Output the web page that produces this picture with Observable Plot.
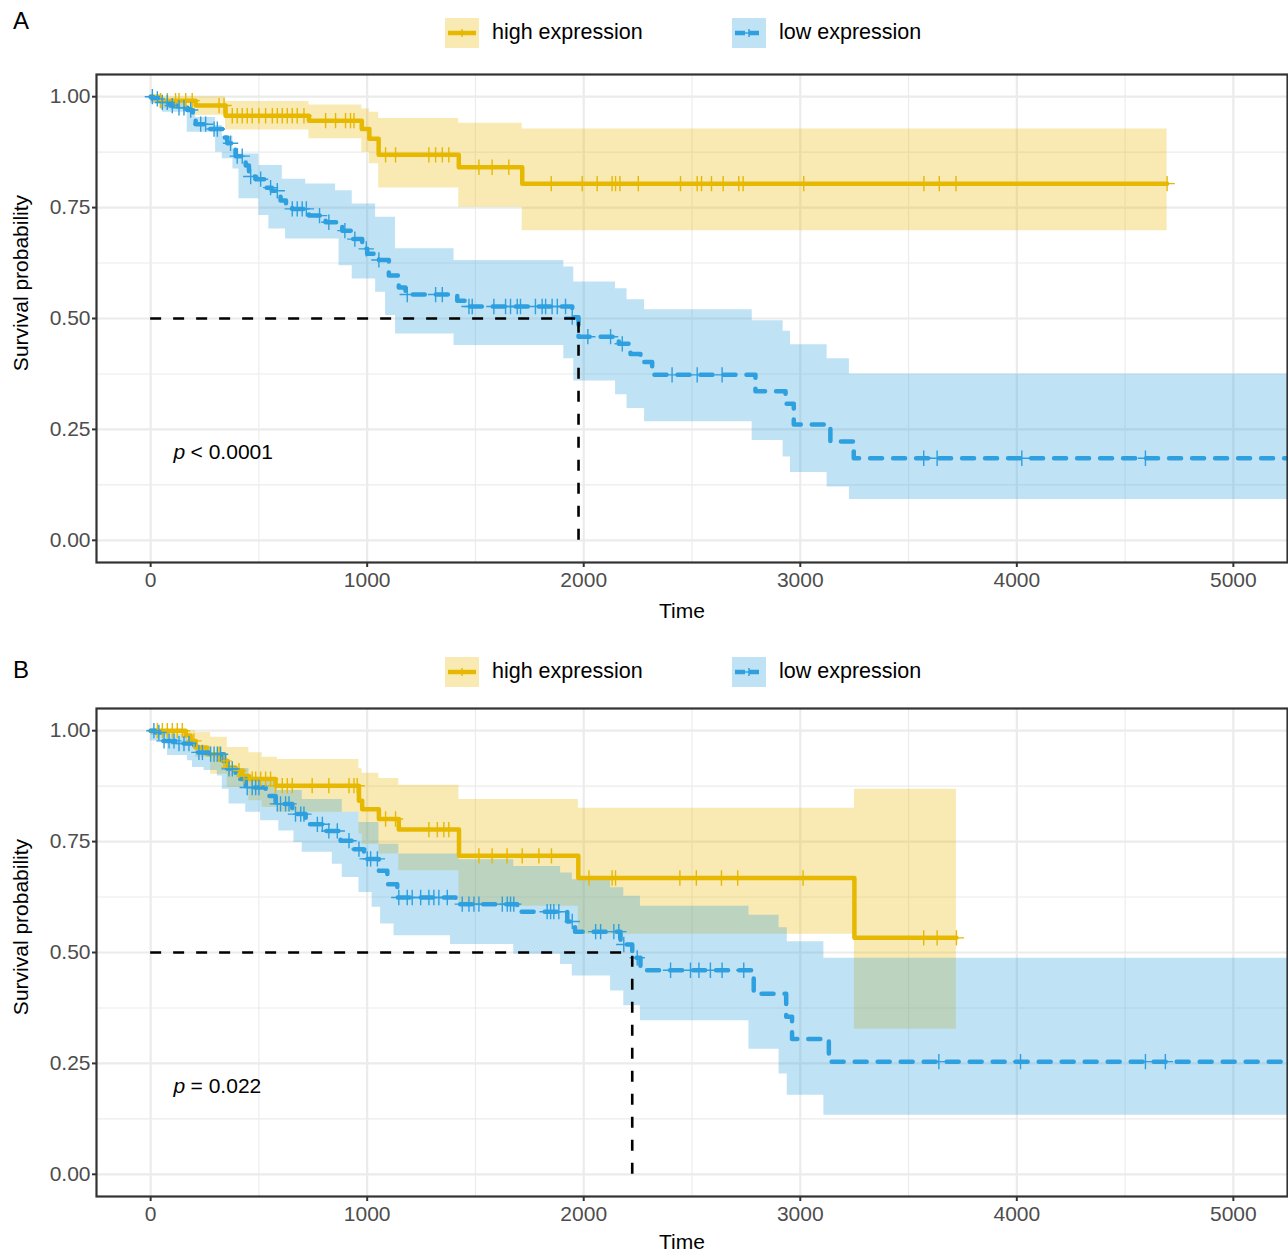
<!DOCTYPE html>
<html><head><meta charset="utf-8">
<script src="https://cdn.jsdelivr.net/npm/d3@7"></script>
<script src="https://cdn.jsdelivr.net/npm/@observablehq/plot@0.6"></script>
<style>
html,body{margin:0;padding:0;background:#fff;}
#root{position:relative;width:1288px;height:1253px;overflow:hidden;font-family:"Liberation Sans",Arial,Helvetica,sans-serif;color:#000;background:#fff;}
.abs{position:absolute;white-space:nowrap;line-height:1;}
.tag{font-size:24px;}
.leg{font-size:21.5px;}
.ytitle{font-size:21px;transform:translate(-50%,-50%) rotate(-90deg);}
.xtitle{font-size:21px;transform:translate(-50%,0);}
.key{position:absolute;}
</style></head><body><div id="root"></div>
<script>
// ---------- axes ----------
const xMajor = [0, 1000, 2000, 3000, 4000, 5000];
const xMinor = [500, 1500, 2500, 3500, 4500];
const yMajor = [0, 0.25, 0.5, 0.75, 1];
const yMinor = [0.125, 0.375, 0.625, 0.875];
const groups = ["high expression", "low expression"];
const colors = ["#E7B800", "#2E9FDF"];
const panelTags = ["A", "B"];
const pValues = ["< 0.0001", "= 0.022"];
const pTime = 106, pSurv = 0.198;

// ---------- Panel A : high expression ----------
const aHighTime  = [0, 40, 208, 346, 731, 975, 1010, 1053, 1423, 1716];
const aHighSurv  = [1, 0.991, 0.980, 0.957, 0.946, 0.927, 0.905, 0.869, 0.841, 0.804];
const aHighUpper = [1, 1, 1, 0.989, 0.981, 0.972, 0.965, 0.951, 0.940, 0.927];
const aHighLower = [1, 0.973, 0.958, 0.925, 0.905, 0.875, 0.849, 0.794, 0.751, 0.698];
const aHighEnd = 4694;
const aHighCensor = [46, 77, 115, 131, 162, 192, 316, 339, 377, 400, 423, 446, 469, 500, 531, 562, 585, 608, 631, 654, 677, 708, 808, 854, 900, 923, 939, 1085, 1131, 1285, 1316, 1347, 1377, 1516, 1577, 1654, 1850, 1993, 2062, 2131, 2147, 2167, 2252, 2447, 2524, 2544, 2590, 2644, 2716, 2736, 3016, 3571, 3642, 3719, 4694];

// ---------- Panel A : low expression ----------
const aLowTime = [0, 10, 40, 90, 130, 170, 195, 208, 269, 339, 354, 377, 392, 439, 454, 485, 531, 560, 600, 625, 654, 731, 808, 885, 931, 977, 1000, 1054, 1100, 1146, 1177, 1416, 1454, 1947, 1976, 2162, 2216, 2262, 2316, 2793, 2932, 2970, 3139, 3247];
const aLowSurv = [1, 0.995, 0.987, 0.980, 0.975, 0.970, 0.955, 0.938, 0.927, 0.908, 0.895, 0.882, 0.866, 0.845, 0.820, 0.814, 0.795, 0.788, 0.766, 0.758, 0.747, 0.732, 0.717, 0.698, 0.679, 0.657, 0.646, 0.632, 0.597, 0.570, 0.554, 0.540, 0.527, 0.503, 0.459, 0.443, 0.420, 0.402, 0.373, 0.336, 0.308, 0.261, 0.223, 0.185];
const aLowEnd = 5250;
const aLowBandTime = [0, 54, 169, 208, 300, 331, 380, 408, 500, 546, 608, 623, 716, 854, 870, 931, 1039, 1085, 1131, 1401, 1908, 1954, 2147, 2200, 2281, 2778, 2921, 2955, 3124, 3227];
const aLowUpper = [1.0, 0.992, 0.969, 0.953, 0.935, 0.910, 0.882, 0.871, 0.845, 0.845, 0.814, 0.814, 0.803, 0.788, 0.788, 0.758, 0.728, 0.728, 0.657, 0.631, 0.616, 0.582, 0.567, 0.542, 0.520, 0.495, 0.471, 0.441, 0.409, 0.375];
const aLowLower = [0.984, 0.965, 0.920, 0.920, 0.875, 0.860, 0.837, 0.770, 0.732, 0.702, 0.702, 0.679, 0.679, 0.679, 0.619, 0.589, 0.559, 0.507, 0.465, 0.439, 0.409, 0.359, 0.328, 0.297, 0.267, 0.225, 0.188, 0.153, 0.120, 0.092];
const aLowCensor = [8, 31, 54, 77, 100, 131, 154, 185, 231, 254, 293, 308, 369, 400, 423, 462, 508, 554, 585, 654, 677, 700, 719, 780, 823, 897, 943, 996, 1054, 1185, 1316, 1347, 1470, 1485, 1585, 1639, 1662, 1693, 1708, 1777, 1808, 1824, 1854, 1878, 1916, 1947, 2019, 2124, 2178, 2408, 2524, 2639, 3570, 3632, 4023, 4594];

// ---------- Panel B : high expression ----------
const bHighTime = [0, 162, 185, 208, 260, 331, 355, 392, 420, 454, 577, 962, 977, 1054, 1146, 1424, 1975, 3250];
const bHighSurv = [1, 0.989, 0.977, 0.962, 0.947, 0.932, 0.917, 0.910, 0.898, 0.891, 0.876, 0.842, 0.823, 0.801, 0.777, 0.718, 0.668, 0.533];
const bHighEnd = 3721;
const bHighBandTime = [0, 162, 208, 277, 354, 454, 515, 585, 962, 977, 1054, 1146, 1424, 1975, 3250];
const bHighUpper = [1.0, 1.0, 0.996, 0.985, 0.962, 0.950, 0.940, 0.935, 0.914, 0.904, 0.892, 0.877, 0.845, 0.825, 0.868];
const bHighLower = [0.989, 0.966, 0.940, 0.902, 0.872, 0.842, 0.827, 0.816, 0.767, 0.744, 0.722, 0.684, 0.604, 0.541, 0.327];
const bHighCensor = [31, 54, 77, 100, 123, 146, 200, 316, 339, 362, 408, 431, 469, 485, 508, 531, 554, 577, 608, 631, 654, 746, 823, 916, 939, 954, 1085, 1131, 1285, 1324, 1354, 1377, 1516, 1577, 1646, 1716, 1793, 1851, 2024, 2131, 2147, 2444, 2520, 2636, 2711, 3013, 3570, 3632, 3721];

// ---------- Panel B : low expression ----------
const bLowTime = [0, 23, 54, 116, 200, 269, 339, 354, 392, 439, 531, 577, 654, 716, 808, 877, 931, 985, 1054, 1093, 1139, 1408, 1693, 1924, 1960, 2170, 2224, 2262, 2785, 2935, 2962, 3132];
const bLowSurv = [1, 0.996, 0.977, 0.971, 0.951, 0.947, 0.929, 0.914, 0.891, 0.872, 0.853, 0.835, 0.812, 0.789, 0.774, 0.752, 0.733, 0.711, 0.684, 0.654, 0.624, 0.609, 0.592, 0.570, 0.547, 0.518, 0.488, 0.460, 0.407, 0.355, 0.305, 0.254];
const bLowEnd = 5250;
const bLowBandTime = [0, 23, 78, 170, 193, 208, 247, 277, 308, 331, 354, 362, 439, 454, 508, 515, 585, 592, 662, 700, 839, 885, 962, 1023, 1054, 1062, 1124, 1146, 1385, 1424, 1677, 1893, 1947, 2124, 2185, 2262, 2763, 2902, 2940, 3109];
const bLowUpper = [1.0, 0.995, 0.990, 0.980, 0.980, 0.965, 0.965, 0.945, 0.945, 0.945, 0.915, 0.915, 0.915, 0.895, 0.895, 0.885, 0.865, 0.865, 0.865, 0.845, 0.845, 0.816, 0.793, 0.793, 0.744, 0.744, 0.744, 0.722, 0.722, 0.709, 0.694, 0.679, 0.664, 0.646, 0.627, 0.604, 0.584, 0.556, 0.524, 0.487];
const bLowLower = [0.977, 0.977, 0.944, 0.932, 0.917, 0.917, 0.910, 0.910, 0.898, 0.868, 0.868, 0.835, 0.816, 0.816, 0.797, 0.797, 0.797, 0.774, 0.748, 0.726, 0.699, 0.669, 0.635, 0.602, 0.602, 0.564, 0.538, 0.538, 0.518, 0.518, 0.496, 0.473, 0.447, 0.413, 0.380, 0.346, 0.282, 0.226, 0.178, 0.133];
const bLowCensor = [15, 38, 62, 85, 108, 131, 154, 177, 223, 239, 277, 293, 308, 323, 362, 377, 446, 469, 485, 500, 585, 600, 623, 639, 669, 693, 708, 770, 793, 823, 862, 916, 962, 1000, 1016, 1047, 1146, 1185, 1208, 1247, 1285, 1308, 1331, 1370, 1439, 1470, 1493, 1516, 1624, 1647, 1662, 1677, 1831, 1847, 1862, 1885, 1947, 2055, 2078, 2139, 2162, 2185, 2247, 2401, 2493, 2532, 2585, 2639, 2739, 3640, 4017, 4594, 4686];

// ---------- helpers (tables built from the arrays) ----------
function stepRows(time, surv, end) {
  const rows = time.map((t, i) => ({t, s: surv[i]}));
  rows.push({t: end, s: surv[surv.length - 1]});
  return rows;
}
function bandRows(time, upper, lower, end) {
  const rows = time.map((t, i) => ({t, hi: upper[i], lo: lower[i]}));
  rows.push({t: end, hi: upper[upper.length - 1], lo: lower[lower.length - 1]});
  return rows;
}
function censorRows(censor, time, surv) {
  return censor.map(c => ({t: c, s: surv[Math.max(0, d3.bisectRight(time, c) - 1)]}));
}
function medianOf(time, surv) {
  const i = surv.findIndex(s => s <= 0.5);
  return i < 0 ? null : time[i];
}

const FONT = '"Liberation Sans", Arial, Helvetica, sans-serif';
const grid = {stroke: "#EBEBEB", strokeOpacity: 1};

function panel(cfg) {
  const med = medianOf(cfg.lowTime, cfg.lowSurv);
  const marks = [
    Plot.gridX(xMinor, {...grid, strokeWidth: 1.1}),
    Plot.gridY(yMinor, {...grid, strokeWidth: 1.1}),
    Plot.gridX(xMajor, {...grid, strokeWidth: 2.2}),
    Plot.gridY(yMajor, {...grid, strokeWidth: 2.2}),
    Plot.areaY(bandRows(cfg.highBandTime, cfg.highUpper, cfg.highLower, cfg.highEnd),
      {x: "t", y1: "lo", y2: "hi", curve: "step-after", fill: colors[0], fillOpacity: 0.3}),
    Plot.areaY(bandRows(cfg.lowBandTime, cfg.lowUpper, cfg.lowLower, cfg.lowEnd),
      {x: "t", y1: "lo", y2: "hi", curve: "step-after", fill: colors[1], fillOpacity: 0.3}),
    Plot.lineY(stepRows(cfg.highTime, cfg.highSurv, cfg.highEnd),
      {x: "t", y: "s", curve: "step-after", stroke: colors[0], strokeWidth: 4.5}),
    Plot.lineY(stepRows(cfg.lowTime, cfg.lowSurv, cfg.lowEnd),
      {x: "t", y: "s", curve: "step-after", stroke: colors[1], strokeWidth: 4.5, strokeDasharray: "12,11"}),
    Plot.dot(censorRows(cfg.highCensor, cfg.highTime, cfg.highSurv),
      {x: "t", y: "s", symbol: "plus", r: 5, stroke: colors[0], strokeWidth: 1.4}),
    Plot.dot(censorRows(cfg.lowCensor, cfg.lowTime, cfg.lowSurv),
      {x: "t", y: "s", symbol: "plus", r: 5, stroke: colors[1], strokeWidth: 1.4})
  ];
  if (med != null) {
    marks.push(
      Plot.ruleY([{y: 0.5, x1: 0, x2: med}], {y: "y", x1: "x1", x2: "x2", stroke: "#000", strokeWidth: 2.6, strokeDasharray: "11,12"}),
      Plot.ruleX([{x: med, y1: 0, y2: 0.5}], {x: "x", y1: "y1", y2: "y2", stroke: "#000", strokeWidth: 2.6, strokeDasharray: "11,12"})
    );
  }
  marks.push(
    Plot.text([{t: pTime, s: pSurv, label: "p"}], {x: "t", y: "s", text: "label", fontStyle: "italic", textAnchor: "start", fontSize: 21, fill: "#000"}),
    Plot.text([{t: pTime, s: pSurv, label: cfg.pValue}], {x: "t", y: "s", text: "label", dx: 17, textAnchor: "start", fontSize: 21, fill: "#000"}),
    Plot.frame({stroke: "#333", strokeWidth: 2.2}),
    Plot.axisX(xMajor, {tickSize: 5, tickPadding: 5, strokeWidth: 2, tickFormat: d => String(d), stroke: "#333", fill: "#4D4D4D", label: null}),
    Plot.axisY(yMajor, {tickSize: 4, tickPadding: 2, strokeWidth: 2, tickFormat: d3.format(".2f"), stroke: "#333", fill: "#4D4D4D", label: null})
  );
  return Plot.plot({
    width: 1288, height: cfg.height,
    marginLeft: 96, marginRight: 1, marginTop: 14, marginBottom: cfg.marginBottom,
    x: {domain: [-250, 5250]},
    y: {domain: [-0.05, 1.05]},
    style: {fontFamily: FONT, fontSize: "21px", background: "transparent", overflow: "visible"},
    marks
  });
}

const root = document.getElementById("root");
function addDiv(cls, text, css) {
  const d = document.createElement("div");
  d.className = "abs " + cls;
  d.textContent = text;
  Object.assign(d.style, css);
  root.appendChild(d);
  return d;
}
function keySvg(color, dashed, left, top) {
  const ns = "http://www.w3.org/2000/svg";
  const svg = document.createElementNS(ns, "svg");
  svg.setAttribute("width", 34); svg.setAttribute("height", 30);
  svg.setAttribute("class", "key");
  svg.style.left = left + "px"; svg.style.top = top + "px";
  const r = document.createElementNS(ns, "rect");
  r.setAttribute("width", 34); r.setAttribute("height", 30);
  r.setAttribute("fill", color); r.setAttribute("fill-opacity", 0.3);
  svg.appendChild(r);
  const l = document.createElementNS(ns, "line");
  l.setAttribute("x1", 3); l.setAttribute("x2", 31); l.setAttribute("y1", 15); l.setAttribute("y2", 15);
  l.setAttribute("stroke", color); l.setAttribute("stroke-width", 4.5);
  if (dashed) l.setAttribute("stroke-dasharray", "10,4");
  svg.appendChild(l);
  const p1 = document.createElementNS(ns, "line");
  p1.setAttribute("x1", 17); p1.setAttribute("x2", 17); p1.setAttribute("y1", 11); p1.setAttribute("y2", 19);
  p1.setAttribute("stroke", color); p1.setAttribute("stroke-width", 1.4);
  svg.appendChild(p1);
  const p2 = document.createElementNS(ns, "line");
  p2.setAttribute("x1", 13); p2.setAttribute("x2", 21); p2.setAttribute("y1", 15); p2.setAttribute("y2", 15);
  p2.setAttribute("stroke", color); p2.setAttribute("stroke-width", 1.4);
  svg.appendChild(p2);
  root.appendChild(svg);
}

const panels = [
  {tagTop: 9.3, legendCenter: 33, svgTop: 60, height: 560, marginBottom: 58, yTitleCenter: 283, xTitleCenter: 610,
   highTime: aHighTime, highSurv: aHighSurv, highEnd: aHighEnd, highBandTime: aHighTime, highUpper: aHighUpper, highLower: aHighLower, highCensor: aHighCensor,
   lowTime: aLowTime, lowSurv: aLowSurv, lowEnd: aLowEnd, lowBandTime: aLowBandTime, lowUpper: aLowUpper, lowLower: aLowLower, lowCensor: aLowCensor,
   pValue: pValues[0]},
  {tagTop: 658, legendCenter: 672, svgTop: 694, height: 559, marginBottom: 57, yTitleCenter: 927, xTitleCenter: 1241.5,
   highTime: bHighTime, highSurv: bHighSurv, highEnd: bHighEnd, highBandTime: bHighBandTime, highUpper: bHighUpper, highLower: bHighLower, highCensor: bHighCensor,
   lowTime: bLowTime, lowSurv: bLowSurv, lowEnd: bLowEnd, lowBandTime: bLowBandTime, lowUpper: bLowUpper, lowLower: bLowLower, lowCensor: bLowCensor,
   pValue: pValues[1]}
];

panels.forEach((cfg, i) => {
  const chart = panel(cfg);
  chart.style.position = "absolute";
  chart.style.left = "0px";
  chart.style.top = cfg.svgTop + "px";
  root.appendChild(chart);
  addDiv("tag", panelTags[i], {left: "13px", top: cfg.tagTop + "px"});
  keySvg(colors[0], false, 445, cfg.legendCenter - 15);
  keySvg(colors[1], true, 732, cfg.legendCenter - 15);
  addDiv("leg", groups[0], {left: "492px", top: (cfg.legendCenter - 11.5) + "px"});
  addDiv("leg", groups[1], {left: "779px", top: (cfg.legendCenter - 11.5) + "px"});
  addDiv("ytitle", "Survival probability", {left: "20px", top: cfg.yTitleCenter + "px"});
  addDiv("xtitle", "Time", {left: "682px", top: (cfg.xTitleCenter - 10.3) + "px"});
});
</script></body></html>
